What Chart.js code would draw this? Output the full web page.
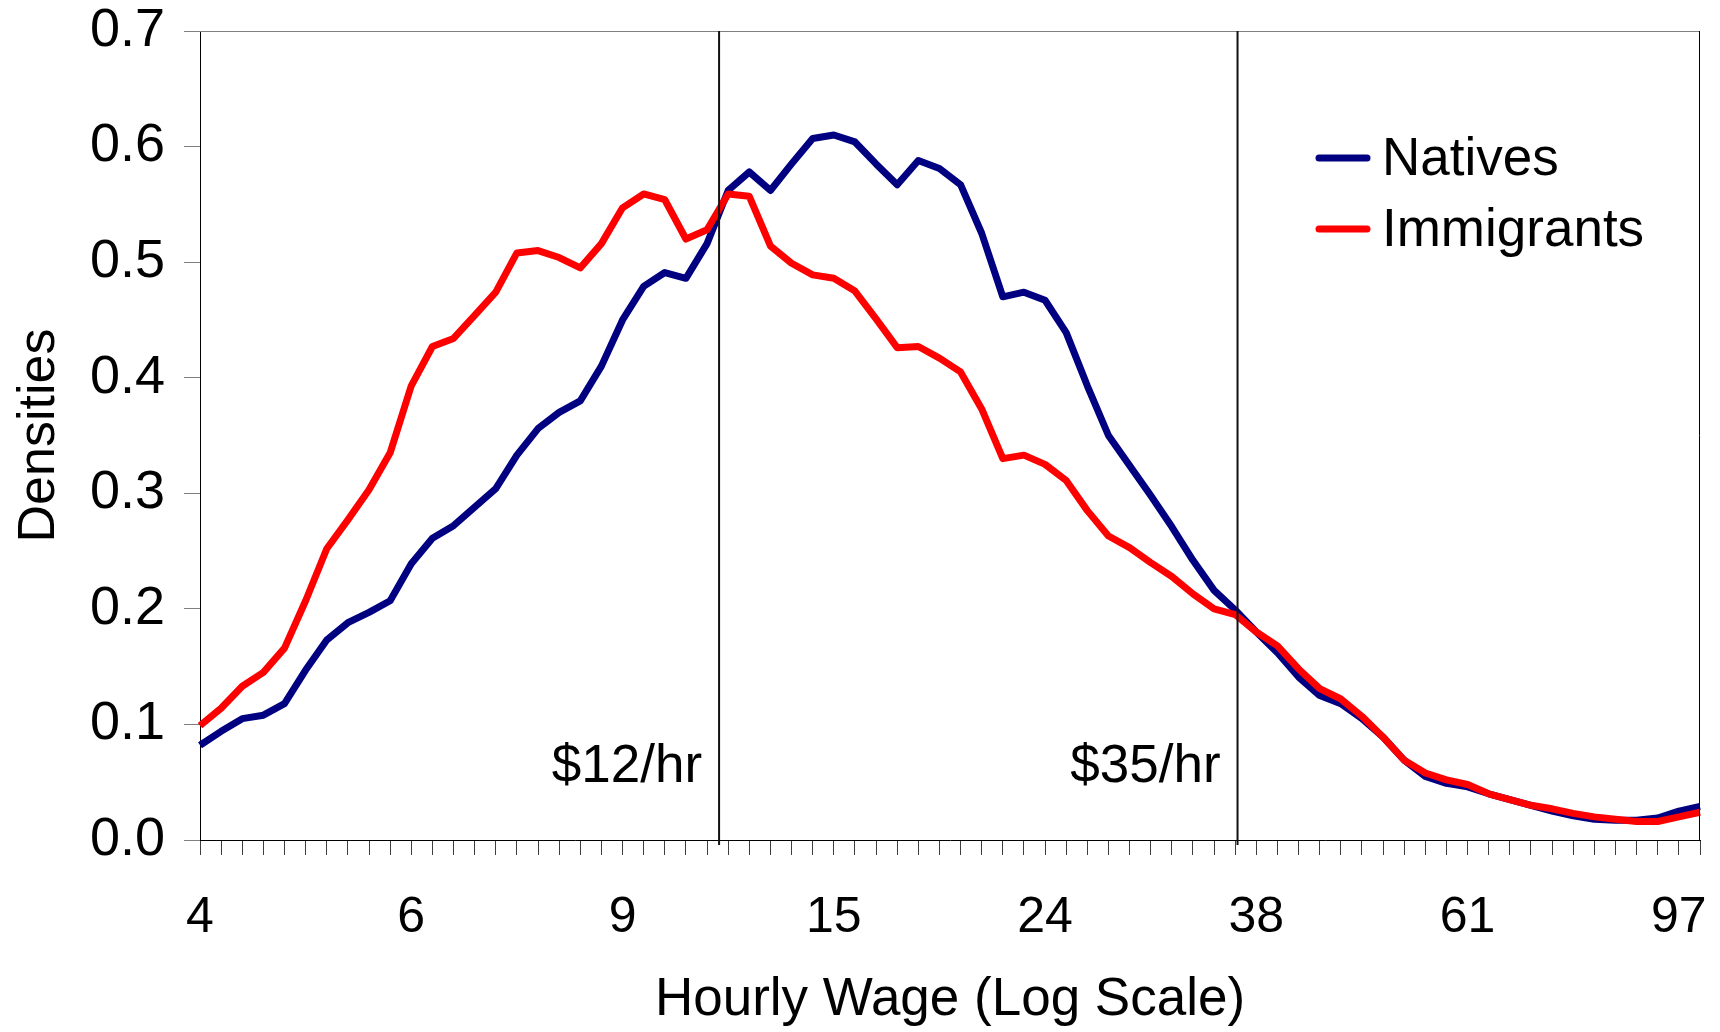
<!DOCTYPE html>
<html>
<head>
<meta charset="utf-8">
<script src="https://cdn.jsdelivr.net/npm/chart.js@4.4.0/dist/chart.umd.min.js"></script>
<style>
html, body { margin: 0; padding: 0; background: #ffffff; }
#wrap { width: 1720px; height: 1032px; }
</style>
</head>
<body>
<div id="wrap"><canvas id="c" width="1720" height="1032"></canvas></div>
<script>
// ---- data ----
const tickLabels = ['4', '6', '9', '15', '24', '38', '61', '97'];
const labelEvery = 10;

const natives = [
  0.082, 0.094, 0.105, 0.108, 0.118, 0.147, 0.173, 0.188, 0.197, 0.207,
  0.239, 0.261, 0.272, 0.288, 0.304, 0.333, 0.356, 0.370, 0.380, 0.410,
  0.450, 0.479, 0.491, 0.486, 0.516, 0.562, 0.578, 0.562, 0.585, 0.607,
  0.610, 0.604, 0.585, 0.567, 0.588, 0.581, 0.567, 0.525, 0.470, 0.474,
  0.467, 0.439, 0.393, 0.350, 0.324, 0.298, 0.271, 0.242, 0.216, 0.199,
  0.180, 0.162, 0.141, 0.125, 0.118, 0.105, 0.089, 0.069, 0.055, 0.049,
  0.046, 0.040, 0.035, 0.030, 0.025, 0.021, 0.018, 0.017, 0.017, 0.019,
  0.025, 0.029
];

const immigrants = [
  0.099, 0.114, 0.133, 0.145, 0.166, 0.207, 0.252, 0.277, 0.303, 0.335,
  0.393, 0.427, 0.434, 0.454, 0.474, 0.508, 0.510, 0.504, 0.495, 0.516,
  0.547, 0.559, 0.554, 0.520, 0.528, 0.559, 0.557, 0.514, 0.499, 0.489,
  0.486, 0.475, 0.451, 0.426, 0.427, 0.417, 0.405, 0.373, 0.330, 0.333,
  0.325, 0.311, 0.285, 0.263, 0.253, 0.240, 0.228, 0.213, 0.200, 0.195,
  0.180, 0.168, 0.148, 0.131, 0.122, 0.107, 0.089, 0.069, 0.058, 0.052,
  0.048, 0.040, 0.035, 0.030, 0.027, 0.023, 0.020, 0.018, 0.016, 0.016,
  0.020, 0.024
];

const seriesNames = ['Natives', 'Immigrants'];
const refLinePositions = [24.57, 49.11];   // in category-index units
const refLineLabels = ['$12/hr', '$35/hr'];

// category table built from the arrays above
const categories = natives.map((_, i) => (i % labelEvery === 0 ? tickLabels[i / labelEvery] : ''));

const FONT = '"Liberation Sans", Arial, Helvetica, sans-serif';

// ---- plugins ----
const framePlugin = {
  id: 'frame',
  afterDatasetsDraw(chart) {
    const { ctx, chartArea: a, scales } = chart;
    ctx.save();
    // top border (grey)
    ctx.strokeStyle = '#808080';
    ctx.lineWidth = 1;
    ctx.beginPath();
    ctx.moveTo(a.left, Math.round(a.top) + 0.5);
    ctx.lineTo(a.right, Math.round(a.top) + 0.5);
    ctx.stroke();
    // right border (black)
    ctx.strokeStyle = '#000000';
    ctx.beginPath();
    ctx.moveTo(Math.round(a.right) - 0.5, a.top);
    ctx.lineTo(Math.round(a.right) - 0.5, a.bottom);
    ctx.stroke();
    // reference lines + labels
    ctx.font = '53px ' + FONT;
    ctx.fillStyle = '#000000';
    ctx.textAlign = 'right';
    ctx.textBaseline = 'middle';
    refLinePositions.forEach((p, i) => {
      const x = scales.x.getPixelForValue(p);
      ctx.strokeStyle = '#111111';
      ctx.lineWidth = 2;
      ctx.beginPath();
      ctx.moveTo(x, a.top);
      ctx.lineTo(x, a.bottom + 5);
      ctx.stroke();
      ctx.fillText(refLineLabels[i], x - 17, 767);
    });
    ctx.restore();
  }
};

const legendPlugin = {
  id: 'lineLegend',
  afterDraw(chart) {
    const ctx = chart.ctx;
    ctx.save();
    ctx.font = '53px ' + FONT;
    ctx.textAlign = 'left';
    ctx.textBaseline = 'middle';
    chart.data.datasets.forEach((d, i) => {
      const y = 158 + i * 71;
      ctx.strokeStyle = d.borderColor;
      ctx.lineWidth = 7;
      ctx.lineCap = 'round';
      ctx.beginPath();
      ctx.moveTo(1319, y);
      ctx.lineTo(1367, y);
      ctx.stroke();
      ctx.fillStyle = '#000000';
      ctx.fillText(d.label, 1382, y + 2);
    });
    ctx.restore();
  }
};

new Chart(document.getElementById('c'), {
  type: 'line',
  data: {
    labels: categories,
    datasets: [
      {
        label: seriesNames[0],
        data: natives,
        borderColor: '#000080',
        backgroundColor: '#000080',
        borderWidth: 7,
        pointRadius: 0,
        tension: 0,
        borderJoinStyle: 'round',
        order: 1
      },
      {
        label: seriesNames[1],
        data: immigrants,
        borderColor: '#ff0000',
        backgroundColor: '#ff0000',
        borderWidth: 7,
        pointRadius: 0,
        tension: 0,
        borderJoinStyle: 'round',
        order: 0
      }
    ]
  },
  options: {
    responsive: false,
    animation: false,
    devicePixelRatio: 1,
    layout: { padding: { top: 31, right: 20, left: 0, bottom: 0 } },
    plugins: {
      legend: { display: false },
      tooltip: { enabled: false },
      title: { display: false }
    },
    scales: {
      x: {
        type: 'category',
        offset: false,
        grid: {
          display: true,
          drawOnChartArea: false,
          drawTicks: true,
          tickLength: 15,
          color: '#404040',
          lineWidth: 1,
          offset: false
        },
        border: { display: true, color: '#000000', width: 1 },
        ticks: {
          autoSkip: false,
          maxRotation: 0,
          minRotation: 0,
          padding: 33,
          color: '#000000',
          font: { family: FONT, size: 50, lineHeight: 1.2 }
        },
        title: {
          display: true,
          text: 'Hourly Wage (Log Scale)',
          color: '#000000',
          font: { family: FONT, size: 53, lineHeight: 1.2 },
          padding: { top: 0, bottom: 0 }
        },
        afterFit(scale) {
          scale.height = 192;
          scale.paddingLeft = 0;
          scale.paddingRight = 0;
        }
      },
      y: {
        min: 0,
        max: 0.7,
        grid: {
          display: true,
          drawOnChartArea: false,
          drawTicks: true,
          tickLength: 16,
          color: '#808080',
          lineWidth: 1
        },
        border: { display: true, color: '#000000', width: 1 },
        ticks: {
          stepSize: 0.1,
          padding: 19,
          color: '#000000',
          font: { family: FONT, size: 54, lineHeight: 1.2 },
          callback: (v) => Number(v).toFixed(1)
        },
        title: {
          display: true,
          text: 'Densities',
          color: '#000000',
          font: { family: FONT, size: 52, lineHeight: 1.2 },
          padding: { top: 8, bottom: 0 }
        },
        afterFit(scale) {
          scale.width = 200;
          scale.paddingTop = 0;
          scale.paddingBottom = 0;
        }
      }
    }
  },
  plugins: [framePlugin, legendPlugin]
});
</script>
</body>
</html>
